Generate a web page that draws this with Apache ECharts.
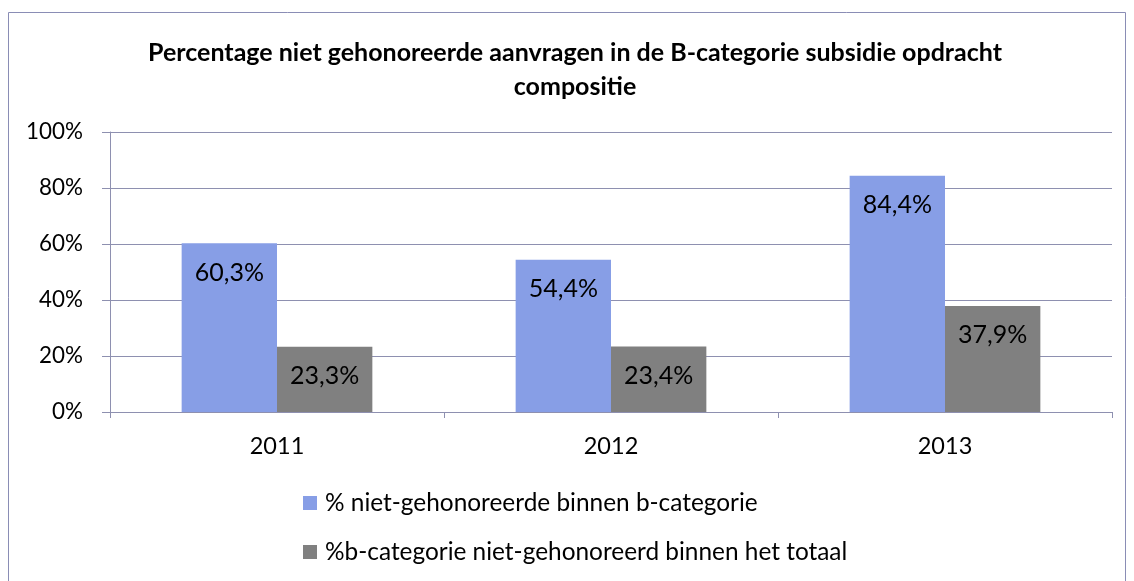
<!DOCTYPE html>
<html><head><meta charset="utf-8">
<script src="https://cdn.jsdelivr.net/npm/echarts@6/dist/echarts.min.js"></script>
<style>html,body{margin:0;padding:0;background:#fff}#c{width:1134px;height:581px}</style>
</head><body><div id="c"></div>
<script>
var categories = ['2011', '2012', '2013'];
var seriesNames = ['% niet-gehonoreerde binnen b-categorie', '%b-categorie niet-gehonoreerd binnen het totaal'];
var valuesA = [60.3, 54.4, 84.4];
var valuesB = [23.3, 23.4, 37.9];
var yTicks = [0, 20, 40, 60, 80, 100];
var titleText = 'Percentage niet gehonoreerde aanvragen in de B-categorie subsidie opdracht\ncompositie';

var FONT = 'Lato';
var chart = echarts.init(document.getElementById('c'));
function lbl(v){ return v.toFixed(1).replace('.', ',') + '%'; }
chart.setOption({
  animation: false,
  textStyle: { fontFamily: FONT },
  title: {
    text: titleText, left: 575, top: 36, textAlign: 'center', padding: 0,
    textStyle: { fontFamily: FONT, fontWeight: 'bold', fontSize: 25, color: '#000', lineHeight: 34 }
  },
  graphic: [{ type: 'rect', shape: { x: 8.5, y: 12.5, width: 1117, height: 580 }, style: { fill: null, stroke: '#8a8db5', lineWidth: 1 }, silent: true }],
  legend: {
    orient: 'vertical', left: 303, top: 491, itemGap: 25, itemWidth: 14, itemHeight: 14, padding: 0,
    icon: 'rect', textStyle: { fontFamily: FONT, fontSize: 24.4, lineHeight: 24, color: '#000', padding: [0,0,0,3] },
    data: seriesNames
  },
  grid: { left: 110, right: 22, top: 132, bottom: 169 },
  xAxis: {
    type: 'category', data: categories,
    axisLine: { lineStyle: { color: '#8e90b0' } },
    axisTick: { show: true, length: 6, lineStyle: { color: '#8e90b0' } },
    axisLabel: { fontFamily: FONT, fontSize: 23.5, color: '#000', margin: 22 }
  },
  yAxis: {
    type: 'value', min: 0, max: 100, interval: 20,
    axisLine: { show: true, lineStyle: { color: '#8e90b0' } },
    axisTick: { show: true, length: 8, inside: false, lineStyle: { color: '#8e90b0' } },
    splitLine: { lineStyle: { color: '#8e90b0' } },
    axisLabel: { fontFamily: FONT, fontSize: 22.4, color: '#000', margin: 27,
      formatter: function(v){ return yTicks.indexOf(v) >= 0 ? v + '%' : ''; } }
  },
  series: [
    { name: seriesNames[0], type: 'bar', data: valuesA, barGap: '0%', barCategoryGap: '42.9%',
      itemStyle: { color: '#879ee6' },
      label: { show: true, position: 'insideTop', distance: 17, fontFamily: FONT, fontSize: 25, color: '#000', formatter: function(p){ return lbl(p.value); } } },
    { name: seriesNames[1], type: 'bar', data: valuesB,
      itemStyle: { color: '#808080' },
      label: { show: true, position: 'insideTop', distance: 17, fontFamily: FONT, fontSize: 25, color: '#000', formatter: function(p){ return lbl(p.value); } } }
  ]
});
</script></body></html>
